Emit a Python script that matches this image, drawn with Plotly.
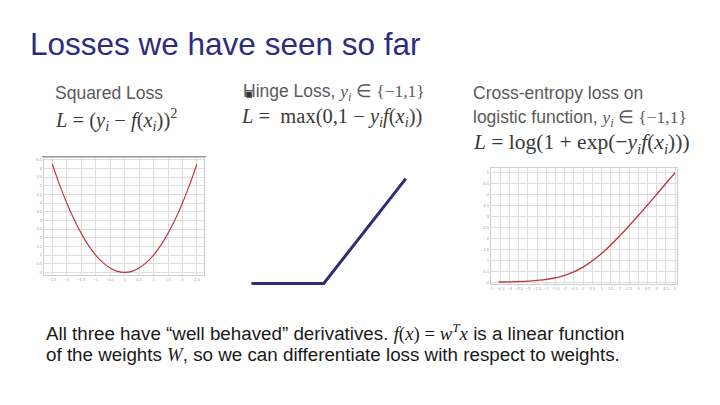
import plotly.graph_objects as go

W, H = 720, 405
OFF = 8  # page body margin offset

# ---- data ----
sq_x = [-2.5, -2.25, -2.0, -1.75, -1.5, -1.25, -1.0, -0.75, -0.5, -0.25, 0.0,
        0.25, 0.5, 0.75, 1.0, 1.25, 1.5, 1.75, 2.0, 2.25, 2.5]
sq_y = [6.25, 5.06, 4.0, 3.06, 2.25, 1.56, 1.0, 0.56, 0.25, 0.06, 0.0,
        0.06, 0.25, 0.56, 1.0, 1.56, 2.25, 3.06, 4.0, 5.06, 6.25]

hinge_x = [-2.0, 1.0, 4.4]
hinge_y = [0.0, 0.0, 3.4]

ce_x = [-4.6, -4.0, -3.0, -2.0, -1.0, 0.0, 1.0, 2.0, 3.0, 4.0, 5.0]
ce_y = [0.01, 0.018, 0.049, 0.127, 0.313, 0.693, 1.313, 2.127, 3.049, 4.018, 5.007]

title_text = "Losses we have seen so far"


def px(x):
    return (x - OFF) / W


def py(y):
    return 1 - (y - OFF) / H


fig = go.Figure()

curve_color = "#c0303a"
grid_color = "#dedede"
tick_font = dict(size=4, color="#9a9a9a", family="Liberation Sans")

fig.add_trace(go.Scatter(x=sq_x, y=sq_y, mode="lines", line=dict(color=curve_color, width=1.1, shape="spline"),
                         xaxis="x", yaxis="y", showlegend=False, hoverinfo="skip"))
fig.add_trace(go.Scatter(x=hinge_x, y=hinge_y, mode="lines", line=dict(color="#2d2d7a", width=3),
                         xaxis="x2", yaxis="y2", showlegend=False, hoverinfo="skip"))
fig.add_trace(go.Scatter(x=ce_x, y=ce_y, mode="lines", line=dict(color=curve_color, width=1.3, shape="spline"),
                         xaxis="x3", yaxis="y3", showlegend=False, hoverinfo="skip"))

axis_common = dict(showgrid=True, gridcolor=grid_color, gridwidth=1, zeroline=False,
                   showline=True, linecolor="#cfcfcf", linewidth=1, mirror=True,
                   ticks="", tickfont=tick_font, ticklen=0)

fig.update_layout(
    width=W, height=H,
    margin=dict(l=0, r=0, t=0, b=0),
    paper_bgcolor="white", plot_bgcolor="white",
    xaxis=dict(domain=[px(42), px(203)], range=[-2.79, 2.76], dtick=0.5, tickangle=0, anchor="y", **axis_common),
    yaxis=dict(domain=[py(275), py(157)], range=[-0.17, 6.62], dtick=0.5, anchor="x", **axis_common),
    xaxis2=dict(domain=[px(245), px(410)], range=[-2.21, 4.61], visible=False, anchor="y2"),
    yaxis2=dict(domain=[py(288), py(175)], range=[-0.16, 3.5], visible=False, anchor="x2"),
    xaxis3=dict(domain=[px(490), px(677)], range=[-5.03, 5.11], dtick=0.5, tickangle=0, anchor="y3", **axis_common),
    yaxis3=dict(domain=[py(284), py(167)], range=[-0.095, 5.235], dtick=0.5, anchor="x3", **axis_common),
)

# frame lines of screenshots
fig.add_shape(type="line", xref="paper", yref="paper", x0=px(40), x1=px(205), y0=py(156), y1=py(156),
              line=dict(color="#8a8a8a", width=1))
fig.add_shape(type="rect", xref="paper", yref="paper", x0=px(245), x1=px(250.5), y0=py(97), y1=py(91),
              fillcolor="#333333", line=dict(width=0))

SANS = "Liberation Sans"
SERIF = "Liberation Serif"


def serif(s):
    return "<span style='font-family:" + SERIF + "'>" + s + "</span>"


anns = []


def ann(text, x, y, size, color, family=SANS):
    anns.append(dict(text=text, x=px(x - 5), y=py(y), xref="paper", yref="paper", xanchor="left",
                     yanchor="middle", showarrow=False, font=dict(size=size, color=color, family=family),
                     align="left"))


ann(title_text, 31, 43, 31.5, "#2c2c80")

label_c = "#5a5a5a"
math_c = "#3a3a3a"
ann("Squared Loss", 56, 92, 17.5, label_c)
ann("<i>L</i> = (<i>y<sub>i</sub></i> − <i>f</i>(<i>x<sub>i</sub></i>))<sup>2</sup>", 56, 119, 20.5, math_c, SERIF)

ann("Hinge Loss, " + serif("<i>y<sub>i</sub></i> ∈ {−1,1}"), 245, 92, 17.5, label_c)
ann("<i>L</i> =  max(0,1 − <i>y<sub>i</sub>f</i>(<i>x<sub>i</sub></i>))", 243, 117, 20.5, math_c, SERIF)

ann("Cross-entropy loss on", 475, 92, 17.5, label_c)
ann("logistic function, " + serif("<i>y<sub>i</sub></i> ∈ {−1,1}"), 475, 118, 17.5, label_c)
ann("<i>L</i> = log(1 + exp(−<i>y<sub>i</sub>f</i>(<i>x<sub>i</sub></i>)))", 475, 143, 21.5, math_c, SERIF)

body_c = "#1a1a1a"
ann("All three have “well behaved” derivatives. " + serif("<i>f</i>(<i>x</i>) = <i>w<sup>T</sup>x</i>")
    + " is a linear function", 47, 332, 18.8, body_c)
ann("of the weights " + serif("<i>W</i>") + ", so we can differentiate loss with respect to weights.",
    47, 354, 18.8, body_c)

fig.update_layout(annotations=anns)

fig.write_html("out.html")
